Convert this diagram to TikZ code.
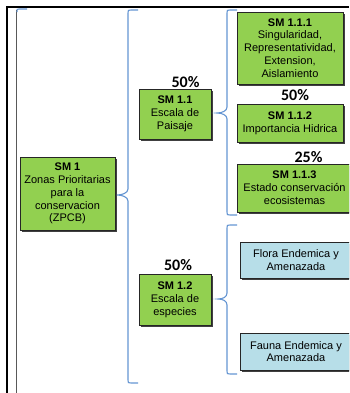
\documentclass[tikz,border=0pt]{standalone}
\usepackage{fontspec}
\setmainfont{Liberation Sans}
\newfontfamily\pctfont{Carlito}
\usetikzlibrary{shadows}

\definecolor{zgreen}{RGB}{146,208,80}
\definecolor{zblue}{RGB}{183,222,232}
\definecolor{zbrace}{RGB}{100,149,210}

\tikzstyle{block}=[draw=black!85, line width=0.8pt, inner sep=1pt, align=center,
  font=\fontsize{11}{12.8}\selectfont,
  drop shadow={shadow xshift=1.6pt, shadow yshift=-1.6pt, fill=black!75, opacity=1}]
\tikzstyle{sm}=[block, fill=zgreen]
\tikzstyle{sp}=[block, fill=zblue]
\tikzstyle{pct}=[inner sep=0pt, font=\pctfont\bfseries\fontsize{16}{16}\selectfont]
\tikzstyle{brc}=[draw=zbrace, line width=1.1pt]

\begin{document}
\begin{tikzpicture}[x=1pt, y=-1pt]
    \clip (0,0) rectangle (349,393);
    % frame on the left and top
    \draw[line width=1.6pt] (7,393) -- (7,7) -- (349,7);
    \draw[black!65, line width=0.8pt] (16,10) -- (16,393);
    \draw[brc] (27,9) -- (19,9) .. controls (17,9) .. (17,12);

    \node[sm, minimum width=95pt, minimum height=73pt] (sm1) at (67.5,193.5)
        {\textbf{SM 1}\\Zonas Prioritarias\\para la\\conservacion\\(ZPCB)};

    \node[sm, minimum width=72pt, minimum height=50pt] (sm11) at (175,114)
        {\textbf{SM 1.1}\\Escala de\\Paisaje};
    \node[pct] (p11) at (185.5,82) {50\%};

    \node[sm, minimum width=72pt, minimum height=51pt] (sm12) at (175,299.5)
        {\textbf{SM 1.2}\\Escala de\\especies};
    \node[pct] (p12) at (178,265) {50\%};

    \node[sm, minimum width=106pt, minimum height=72pt] (sm111) at (290,48)
        {\textbf{SM 1.1.1}\\Singularidad,\\Representatividad,\\Extension,\\Aislamiento};
    \node[pct] (p112) at (295,95) {50\%};
    \node[sm, minimum width=106pt, minimum height=38pt] (sm112) at (290,123)
        {\textbf{SM 1.1.2}\\Importancia Hidrica};
    \node[pct] (p113) at (308.5,157) {25\%};
    \node[sm, minimum width=115pt, minimum height=48pt] (sm113) at (294.5,188)
        {\textbf{SM 1.1.3}\\Estado conservación\\ecosistemas};

    \node[sp, minimum width=112pt, minimum height=36pt] (flora) at (296,260)
        {Flora Endemica y\\Amenazada};
    \node[sp, minimum width=112pt, minimum height=37pt] (fauna) at (296,351.5)
        {Fauna Endemica y\\Amenazada};

    % braces
    \draw[brc] (138,10) -- (131,10) .. controls (128,10) .. (128,13) -- (128,189)
        .. controls (128,193) and (122,195) .. (117,195)
        .. controls (122,195) and (128,197) .. (128,201) -- (128,380)
        .. controls (128,383) .. (131,383) -- (138,383);
    \draw[brc] (237,10) -- (230,10) .. controls (227,10) .. (227,13) -- (227,107)
        .. controls (227,111) and (222,113) .. (217,113)
        .. controls (222,113) and (227,115) .. (227,119) -- (227,212)
        .. controls (227,215) .. (230,215) -- (237,215);
    \draw[brc] (237,225) -- (230,225) .. controls (227,225) .. (227,228) -- (227,293)
        .. controls (227,297) and (223,299) .. (218,299)
        .. controls (223,299) and (227,301) .. (227,305) -- (227,371)
        .. controls (227,374) .. (230,374) -- (237,374);
\end{tikzpicture}
\end{document}
